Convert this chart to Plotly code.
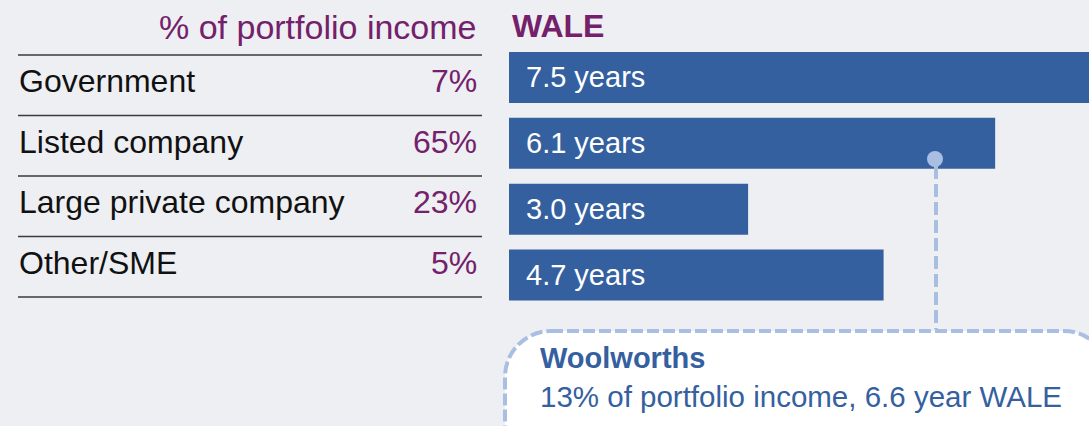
import plotly.graph_objects as go

# ---- data ----
categories = ["Government", "Listed company", "Large private company", "Other/SME"]
income_pct = [7, 65, 23, 5]
wale_years = [7.5, 6.1, 3.0, 4.7]
header_income = "% of portfolio income"
header_wale = "WALE"
callout_title = "Woolworths"
callout_text = "13% of portfolio income, 6.6 year WALE"

W, H = 1089, 426
BG = "#eeeff3"
BLUE = "#3560a0"
PURPLE = "#74206a"
LIGHT = "#a8bfe2"
FONT = "Liberation Sans, Arial, Helvetica, sans-serif"


def px(x):
    return x / W


def py(y):
    return 1 - y / H


fig = go.Figure()
fig.add_trace(go.Bar(
    x=wale_years, y=categories, orientation="h",
    marker=dict(color=BLUE, line=dict(width=0)),
    width=0.773, hoverinfo="skip", showlegend=False,
))

annotations = []
shapes = []

# headers
annotations.append(dict(xref="paper", yref="paper", x=px(479), y=py(27), text=header_income,
                        xanchor="right", yanchor="middle", showarrow=False,
                        font=dict(family=FONT, size=34, color=PURPLE)))
annotations.append(dict(xref="paper", yref="paper", x=px(510), y=py(26), text="<b>%s</b>" % header_wale,
                        xanchor="left", yanchor="middle", showarrow=False,
                        font=dict(family=FONT, size=32, color=PURPLE)))

# table rows
line_top = 55
pitch = 60.5
for i, (cat, pct) in enumerate(zip(categories, income_pct)):
    yc = line_top + pitch * i + pitch / 2 - 4
    annotations.append(dict(xref="paper", yref="paper", x=px(17), y=py(yc), text=cat,
                            xanchor="left", yanchor="middle", showarrow=False,
                            font=dict(family=FONT, size=32, color="#111111")))
    annotations.append(dict(xref="paper", yref="paper", x=px(479), y=py(yc), text="%d%%" % pct,
                            xanchor="right", yanchor="middle", showarrow=False,
                            font=dict(family=FONT, size=32, color=PURPLE)))
for i in range(len(categories) + 1):
    yl = line_top + pitch * i
    shapes.append(dict(type="line", xref="paper", yref="paper", x0=px(18), x1=px(482),
                       y0=py(yl), y1=py(yl), line=dict(color="#3a3a3a", width=1.3)))

# bar labels
for cat, v in zip(categories, wale_years):
    annotations.append(dict(xref="x", yref="y", x=0, y=cat, text="%.1f years" % v,
                            xanchor="left", yanchor="middle", xshift=15, showarrow=False,
                            font=dict(family=FONT, size=29, color="white")))

# callout connector
shapes.append(dict(type="line", xref="paper", yref="paper", x0=px(936), x1=px(936),
                   y0=py(166), y1=py(329), line=dict(color=LIGHT, width=4, dash="13px,5px"),
                   layer="above"))
shapes.append(dict(type="circle", xref="paper", yref="paper", x0=px(927), x1=px(943),
                   y0=py(151), y1=py(167), fillcolor=LIGHT, line=dict(width=0), layer="above"))

# rounded callout box
x0, x1, y0, y1, r = 505, 1110, 331, 480, 46
k = 0.5523 * r
path = (
    f"M {px(x0 + r)},{py(y0)} L {px(x1 - r)},{py(y0)} "
    f"C {px(x1 - r + k)},{py(y0)} {px(x1)},{py(y0 + r - k)} {px(x1)},{py(y0 + r)} "
    f"L {px(x1)},{py(y1 - r)} "
    f"C {px(x1)},{py(y1 - r + k)} {px(x1 - r + k)},{py(y1)} {px(x1 - r)},{py(y1)} "
    f"L {px(x0 + r)},{py(y1)} "
    f"C {px(x0 + r - k)},{py(y1)} {px(x0)},{py(y1 - r + k)} {px(x0)},{py(y1 - r)} "
    f"L {px(x0)},{py(y0 + r)} "
    f"C {px(x0)},{py(y0 + r - k)} {px(x0 + r - k)},{py(y0)} {px(x0 + r)},{py(y0)} Z"
)
shapes.append(dict(type="path", xref="paper", yref="paper", path=path, fillcolor="white",
                   line=dict(color=LIGHT, width=4, dash="12px,4px"), layer="above"))

annotations.append(dict(xref="paper", yref="paper", x=px(538), y=py(358), text="<b>%s</b>" % callout_title,
                        xanchor="left", yanchor="middle", showarrow=False,
                        font=dict(family=FONT, size=29, color=BLUE)))
annotations.append(dict(xref="paper", yref="paper", x=px(538), y=py(396), text=callout_text,
                        xanchor="left", yanchor="middle", showarrow=False,
                        font=dict(family=FONT, size=29.5, color=BLUE)))

fig.update_layout(
    width=W, height=H,
    margin=dict(l=0, r=0, t=0, b=0),
    paper_bgcolor=BG, plot_bgcolor="rgba(0,0,0,0)",
    xaxis=dict(domain=[px(509), 1], range=[0, 580 / 79.7], visible=False, fixedrange=True),
    yaxis=dict(domain=[py(308), py(44.5)], type="category", categoryorder="array",
               categoryarray=categories, range=[3.5, -0.5], visible=False, fixedrange=True),
    annotations=annotations, shapes=shapes,
    showlegend=False,
)

fig.write_html("out.html", config={"displayModeBar": False},
               post_script="document.body.style.margin='0';document.body.style.overflow='hidden';")
